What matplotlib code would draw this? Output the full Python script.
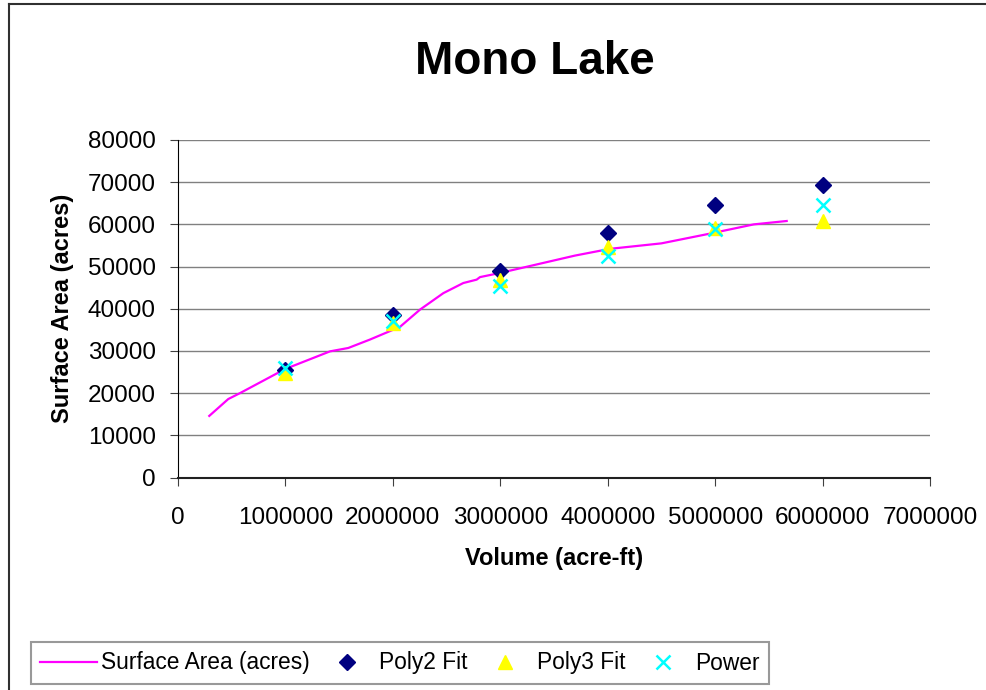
import matplotlib
matplotlib.use("Agg")
import matplotlib.pyplot as plt
from matplotlib.lines import Line2D
from matplotlib.ticker import StrMethodFormatter

plt.rcParams['font.family'] = ['Liberation Sans', 'DejaVu Sans']

# measured curve: volume (acre-ft) vs surface area (acres)
volume = [291000, 468000, 577000, 996000, 1415000, 1585000, 1787000, 2066000,
          2253000, 2470000, 2656000, 2780000, 2811000, 3000000, 3695000,
          4020000, 4500000, 4950000, 5360000, 5666000]
area = [14600, 18600, 20000, 25700, 29900, 30700, 32700, 35700,
        39800, 43700, 46100, 46900, 47500, 48500, 52600,
        54200, 55500, 57800, 60000, 60800]

# fitted estimates
fit_vol = [1000000, 2000000, 3000000, 4000000, 5000000, 6000000]
poly2 = [25500, 38600, 49000, 58000, 64600, 69300]
poly3 = [24800, 36700, 46900, 54700, 59200, 60800]
power = [25900, 37000, 45500, 52400, 59000, 64600]

fig = plt.figure(figsize=(9.87, 6.9), dpi=100)
ax = fig.add_axes([178/987, 1-477.5/690, 752/987, 337.5/690])

ax.plot(volume, area, color='#FF00FF', lw=1.6, label='Surface Area (acres)')
ax.plot(fit_vol, poly2, ls='none', marker='D', ms=8, color='#000080', label='Poly2 Fit')
ax.plot(fit_vol, poly3, ls='none', marker='^', ms=10, color='#FFFF00', label='Poly3 Fit')
ax.plot(fit_vol, power, ls='none', marker='x', ms=10, mew=1.8, color='#00FFFF', label='Power')

ax.set_xlim(0, 7000000)
ax.set_ylim(0, 80000)
ax.set_xticks(range(0, 7000001, 1000000))
ax.set_yticks(range(0, 80001, 10000))
ax.xaxis.set_major_formatter(StrMethodFormatter('{x:.0f}'))
ax.grid(axis='y', color='#808080', lw=1)
ax.set_axisbelow(True)
for s in ['top', 'right']:
    ax.spines[s].set_visible(False)
ax.spines['left'].set_color('black')
ax.spines['bottom'].set_color('#202020')
ax.spines['bottom'].set_linewidth(1.5)
ax.tick_params(labelsize=17.5, length=6, color='#404040', direction='out')
ax.tick_params(axis='x', pad=15)
ax.tick_params(axis='y', pad=10)

ax.set_xlabel('Volume (acre-ft)', fontsize=17, fontweight='bold', labelpad=13)
ax.set_ylabel('Surface Area (acres)', fontsize=17, fontweight='bold', labelpad=10)

fig.text(535/987, 1-62/690, 'Mono Lake', fontsize=33, fontweight='bold',
         ha='center', va='center')

# outer chart border (top and left visible)
fig.add_artist(Line2D([9/987, 1.01], [1-4/690, 1-4/690], color='#303030', lw=1.5,
                      transform=fig.transFigure))
fig.add_artist(Line2D([9/987, 9/987], [1-4/690, -0.01], color='#303030', lw=1.5,
                      transform=fig.transFigure))

leg = fig.legend(loc='center', bbox_to_anchor=(400/987, 1-663/690), ncol=4,
                 fontsize=16.4, frameon=True, fancybox=False, edgecolor='#808080',
                 handlelength=2.5, handletextpad=0.15, columnspacing=0.4,
                 borderpad=0.4)
leg.get_frame().set_linewidth(1.5)

fig.savefig('out.png', dpi=100)
